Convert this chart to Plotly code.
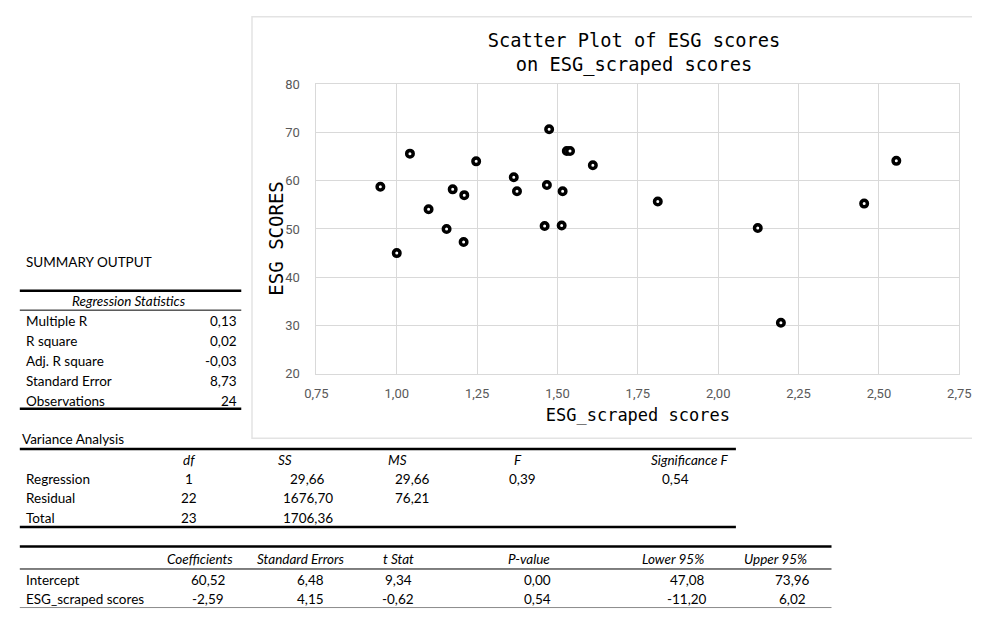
import plotly.graph_objects as go

# ---- scatter data -------------------------------------------------------
esg_scraped = [0.949, 1.000, 1.041, 1.099, 1.155, 1.174, 1.210, 1.208,
               1.247, 1.364, 1.374, 1.460, 1.467, 1.474, 1.513, 1.516,
               1.529, 1.539, 1.610, 1.812, 2.123, 2.195, 2.454, 2.554]
esg_scores = [58.75, 45.0, 65.6, 54.1, 50.0, 58.2, 57.0, 47.3,
              64.0, 60.7, 57.8, 50.6, 59.1, 70.65, 50.7, 57.8,
              66.15, 66.15, 63.2, 55.7, 50.2, 30.6, 55.25, 64.1]

x_ticks = [0.75, 1.00, 1.25, 1.50, 1.75, 2.00, 2.25, 2.50, 2.75]
y_ticks = [20, 30, 40, 50, 60, 70, 80]

# ---- regression output ---------------------------------------------------
reg_labels = ["Multiple R", "R square", "Adj. R square", "Standard Error", "Observations"]
reg_values = ["0,13", "0,02", "-0,03", "8,73", "24"]

anova_header = ["df", "SS", "MS", "F", "Significance F"]
anova_rows = ["Regression", "Residual", "Total"]
anova_cells = [["1", "29,66", "29,66", "0,39", "0,54"],
               ["22", "1676,70", "76,21", "", ""],
               ["23", "1706,36", "", "", ""]]

coef_header = ["Coefficients", "Standard Errors", "t Stat", "P-value", "Lower 95%", "Upper 95%"]
coef_rows = ["Intercept", "ESG_scraped scores"]
coef_cells = [["60,52", "6,48", "9,34", "0,00", "47,08", "73,96"],
              ["-2,59", "4,15", "-0,62", "0,54", "-11,20", "6,02"]]

W, H = 984, 617
TABLE_FONT = "Lato, Carlito, Calibri, sans-serif"
MONO = "DejaVu Sans Mono, Liberation Mono, monospace"


def px(x):
    """pixel x -> paper fraction"""
    return x / W


def py(y):
    """pixel y (from top) -> paper fraction"""
    return 1 - y / H


fig = go.Figure()
fig.add_trace(go.Scatter(
    x=esg_scraped, y=esg_scores, mode="markers",
    marker=dict(size=6.5, color="white", line=dict(color="black", width=3.5)),
    hoverinfo="x+y", showlegend=False,
))

annotations = []
shapes = []


def text(x, y, s, anchor="left", italic=False, size=13.5):
    annotations.append(dict(
        x=px(x), y=py(y), xref="paper", yref="paper", text=s,
        showarrow=False, xanchor=anchor, yanchor="middle",
        font=dict(family=TABLE_FONT, size=size, color="black",
                  style="italic" if italic else "normal"),
    ))


def hline(x0, x1, y, width=1.0, color="black"):
    shapes.append(dict(type="line", xref="paper", yref="paper",
                       x0=px(x0), x1=px(x1), y0=py(y), y1=py(y),
                       line=dict(color=color, width=width)))


# chart frame (its right side runs to the page edge)
shapes.append(dict(type="path", xref="paper", yref="paper",
                   path=f"M {px(984)},{py(10)} L {px(246)},{py(10)} "
                        f"L {px(246)},{py(442)} L {px(984)},{py(442)}",
                   line=dict(color="#e3e3e3", width=1.5), layer="below"))

# y-axis title of the scatter chart
annotations.append(dict(
    x=px(271), y=py(237), xref="paper", yref="paper", text="ESG SCORES",
    showarrow=False, textangle=-90, xanchor="center", yanchor="middle",
    font=dict(family=MONO, size=19, color="black"),
))

# summary / regression statistics block
text(12, 261, "SUMMARY OUTPUT")
hline(8, 235, 290.7, width=2.5)
text(120, 301.5, "Regression Statistics", anchor="center", italic=True)
hline(8, 235, 310.7, width=1)
for i, (lab, val) in enumerate(zip(reg_labels, reg_values)):
    yy = 322 + i * 20.4
    text(12, yy, lab)
    text(233, yy, val, anchor="right")
hline(8, 235, 411.7, width=2.5)

# variance analysis block
text(8, 443, "Variance Analysis")
hline(8, 742, 453, width=2.5)
anova_head_x = [181, 280, 395, 519, 695]
anova_val_x = [181, 303, 410, 523, 680]
for hx, h in zip(anova_head_x, anova_header):
    text(hx, 464, h, anchor="center", italic=True)
for r, (lab, cells) in enumerate(zip(anova_rows, anova_cells)):
    yy = 484 + r * 19.7
    text(12, yy, lab)
    for vx, c in zip(anova_val_x, cells):
        if c:
            text(vx, yy, c, anchor="center")
hline(8, 742, 533, width=2.5)

# coefficients block
hline(8, 840, 553, width=2.5)
coef_head_x = [193, 296, 396, 530, 678, 783]
coef_val_x = [201, 306, 396, 539, 692, 800]
for hx, h in zip(coef_head_x, coef_header):
    text(hx, 566, h, anchor="center", italic=True)
hline(8, 840, 576, width=1)
for r, (lab, cells) in enumerate(zip(coef_rows, coef_cells)):
    yy = 587 + r * 19.5
    text(12, yy, lab)
    for vx, c in zip(coef_val_x, cells):
        text(vx, yy, c, anchor="center")
hline(8, 840, 615.5, width=1, color="#8c8c8c")

tick_font = dict(family="Liberation Sans Narrow, Arial Narrow, Roboto, sans-serif",
                 size=13, color="#595959")

fig.update_layout(
    width=W, height=H,
    margin=dict(l=0, r=0, t=0, b=0),
    paper_bgcolor="white", plot_bgcolor="white",
    separators=", ",
    title=dict(text="Scatter Plot of ESG scores<br>on ESG_scraped scores",
               x=px(634), xanchor="center", y=py(47), yanchor="middle",
               font=dict(family=MONO, size=18.7, color="black")),
    xaxis=dict(
        domain=[px(312), px(971)], range=[0.75, 2.75],
        tickmode="array", tickvals=x_ticks, tickformat=".2f",
        showgrid=True, gridcolor="#d9d9d9", gridwidth=1,
        showline=True, linecolor="#d9d9d9", linewidth=1, mirror=True,
        zeroline=False, ticks="", ticklabelstandoff=8,
        tickfont=tick_font,
        title=dict(text="ESG_scraped scores", standoff=8,
                   font=dict(family=MONO, size=17, color="black")),
    ),
    yaxis=dict(
        domain=[py(376), py(79)], range=[20, 80],
        tickmode="array", tickvals=y_ticks, tickformat="d",
        showgrid=True, gridcolor="#d9d9d9", gridwidth=1,
        showline=True, linecolor="#d9d9d9", linewidth=1, mirror=True,
        zeroline=False, ticks="", ticklabelstandoff=13,
        tickfont=tick_font,
    ),
    annotations=annotations,
    shapes=shapes,
)

fig.write_html("out.html")
